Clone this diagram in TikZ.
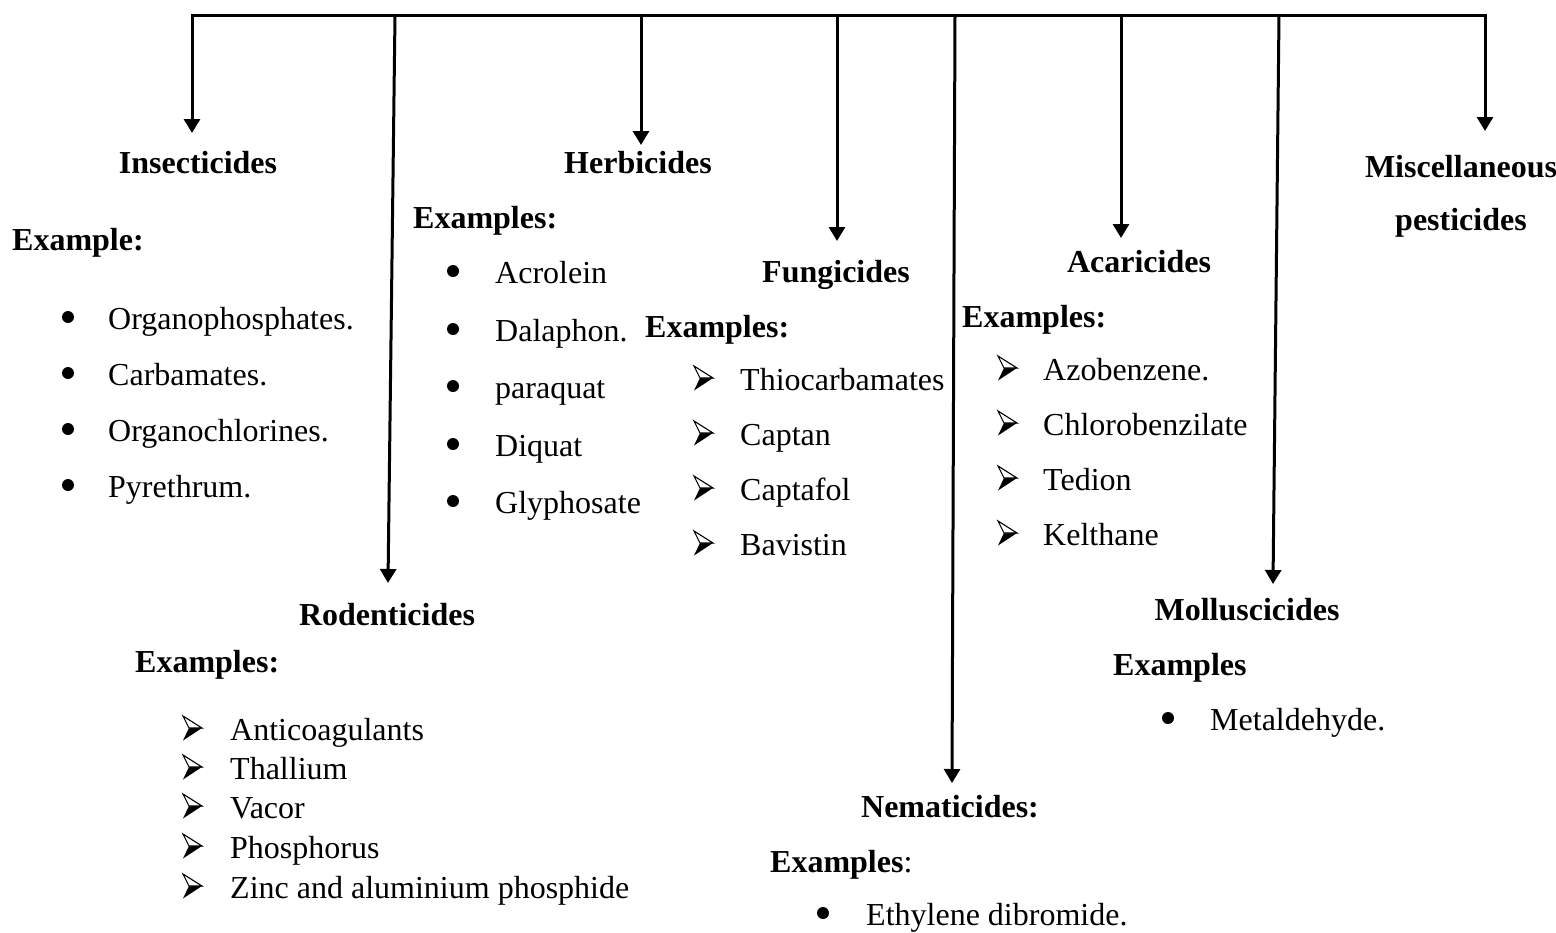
\documentclass[tikz,border=0pt]{standalone}
\usepackage{fontspec}
\setmainfont{Liberation Serif}
\usetikzlibrary{arrows.meta}
\begin{document}
\begin{tikzpicture}[x=1pt,y=-1pt,
  every node/.style={inner sep=0pt, font=\fontsize{32}{38}\selectfont},
  head/.style={anchor=base, font=\fontsize{32}{38}\selectfont\bfseries},
  exlab/.style={anchor=base west, font=\fontsize{32}{38}\selectfont\bfseries},
  itemtext/.style={anchor=base west},
  dotmark/.style={circle, fill=black, minimum size=12pt, inner sep=0pt},
  bar/.style={line width=3pt, line cap=rect},
  conn/.style={line width=3pt, -{Triangle[width=16pt,length=14pt]}},
  arrbul/.pic={
    \fill[black] (-3,0) -- (10,0) -- (-9,12.5) -- cycle;
    \filldraw[fill=white, draw=black, line width=1.1pt, line join=miter] (-9,-12) -- (10,0) -- (-3,0) -- cycle;
  }]
\useasboundingbox (0,0) rectangle (1556,932);

% top bar coordinates
\coordinate (t1) at (192,15);
\coordinate (t2) at (395,15);
\coordinate (t3) at (641,15);
\coordinate (t4) at (837,15);
\coordinate (t5) at (955,15);
\coordinate (t6) at (1121,15);
\coordinate (t7) at (1279,15);
\coordinate (t8) at (1485,15);
% arrow tips
\coordinate (e1) at (192,133);
\coordinate (e2) at (388,583);
\coordinate (e3) at (641,145);
\coordinate (e4) at (837,241);
\coordinate (e5) at (952,783);
\coordinate (e6) at (1121,238);
\coordinate (e7) at (1273,584);
\coordinate (e8) at (1485,131);

\draw[bar] (t1) -- (t8);
\foreach \i in {1,...,8} \draw[conn] (t\i) -- (e\i);

% Insecticides
\node[head] (ins) at (198,173) {Insecticides};
\node[exlab] (insex) at (12,250) {Example:};
\foreach \t [count=\k from 0] in {Organophosphates.,Carbamates.,Organochlorines.,Pyrethrum.}{
  \node[dotmark] (insd\k) at (68,317+56*\k) {};
  \node[itemtext] (insi\k) at (108,329+56*\k) {\t};
}

% Herbicides
\node[head] (her) at (638,173) {Herbicides};
\node[exlab] (herex) at (413,228) {Examples:};
\foreach \t/\y [count=\k] in {Acrolein/283,Dalaphon./341,paraquat/398,Diquat/456,Glyphosate/513}{
  \node[dotmark] (herd\k) at (453,\y-12) {};
  \node[itemtext] (heri\k) at (495,\y) {\t};
}

% Fungicides
\node[head] (fun) at (836,282) {Fungicides};
\node[exlab] (funex) at (645,337) {Examples:};
\foreach \t/\y [count=\k] in {Thiocarbamates/390,Captan/445,Captafol/500,Bavistin/555}{
  \pic at (703,\y-12) {arrbul};
  \node[itemtext] (funi\k) at (740,\y) {\t};
}

% Acaricides
\node[head] (aca) at (1139,272) {Acaricides};
\node[exlab] (acaex) at (962,327) {Examples:};
\foreach \t/\y [count=\k] in {Azobenzene./380,Chlorobenzilate/435,Tedion/490,Kelthane/545}{
  \pic at (1007,\y-12) {arrbul};
  \node[itemtext] (acai\k) at (1043,\y) {\t};
}

% Miscellaneous
\node[head] (mis1) at (1461,177) {Miscellaneous};
\node[head] (mis2) at (1461,230) {pesticides};

% Rodenticides
\node[head] (rod) at (387,625) {Rodenticides};
\node[exlab] (rodex) at (135,672) {Examples:};
\foreach \t/\y [count=\k] in {Anticoagulants/740,Thallium/779,Vacor/818,Phosphorus/858,Zinc and aluminium phosphide/898}{
  \pic at (192,\y-12) {arrbul};
  \node[itemtext] (rodi\k) at (230,\y) {\t};
}

% Nematicides
\node[head] (nem) at (950,817) {Nematicides:};
\node[exlab] (nemex) at (770,872) {Examples\normalfont:};
\node[dotmark] (nemd1) at (823,913) {};
\node[itemtext] (nemi1) at (866,925) {Ethylene dibromide.};

% Molluscicides
\node[head] (mol) at (1247,620) {Molluscicides};
\node[exlab] (molex) at (1113,675) {Examples};
\node[dotmark] (mold1) at (1168,718) {};
\node[itemtext] (moli1) at (1210,730) {Metaldehyde.};
\end{tikzpicture}
\end{document}
